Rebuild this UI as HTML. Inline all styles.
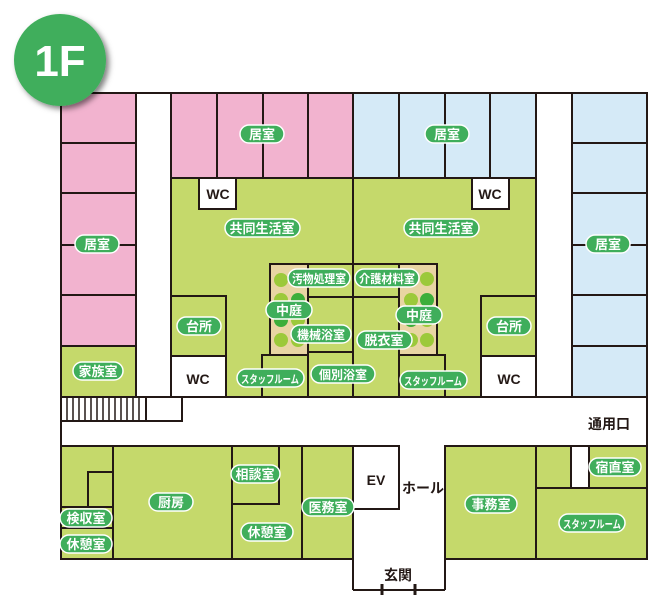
<!DOCTYPE html>
<html><head><meta charset="utf-8"><style>
html,body{margin:0;padding:0;background:#fff;width:648px;height:596px;overflow:hidden}
svg{display:block}
.l{font-family:"Liberation Sans","Noto Sans CJK JP",sans-serif;font-weight:bold;fill:#fff;font-size:13px}
.t{font-family:"Liberation Sans","Noto Sans CJK JP",sans-serif;font-weight:bold;fill:#231815;font-size:14px}
</style></head><body>
<svg width="648" height="596" viewBox="0 0 648 596" xmlns="http://www.w3.org/2000/svg">
<defs>
<filter id="sh" x="-30%" y="-30%" width="160%" height="160%"><feDropShadow dx="3" dy="3" stdDeviation="3" flood-color="#000" flood-opacity="0.5"/></filter>
</defs>
<g stroke="#231815" stroke-width="2">
<rect x="61" y="446" width="292" height="113" fill="#c5d96b"/>
<rect x="445" y="446" width="202" height="113" fill="#c5d96b"/>
<rect x="171" y="178" width="365" height="219" fill="#c5d96b"/>
<rect x="61" y="93" width="75" height="50" fill="#f2b3cf"/>
<rect x="61" y="143" width="75" height="50" fill="#f2b3cf"/>
<rect x="61" y="193" width="75" height="102" fill="#f2b3cf"/>
<line x1="61" y1="245" x2="136" y2="245"/>
<rect x="61" y="295" width="75" height="51" fill="#f2b3cf"/>
<rect x="61" y="346" width="75" height="51" fill="#c5d96b"/>
<rect x="171" y="93" width="46" height="85" fill="#f2b3cf"/>
<rect x="217" y="93" width="46" height="85" fill="#f2b3cf"/>
<rect x="263" y="93" width="45" height="85" fill="#f2b3cf"/>
<rect x="308" y="93" width="45" height="85" fill="#f2b3cf"/>
<rect x="353" y="93" width="46" height="85" fill="#d5eaf7"/>
<rect x="399" y="93" width="46" height="85" fill="#d5eaf7"/>
<rect x="445" y="93" width="45" height="85" fill="#d5eaf7"/>
<rect x="490" y="93" width="46" height="85" fill="#d5eaf7"/>
<rect x="572" y="93" width="75" height="50" fill="#d5eaf7"/>
<rect x="572" y="143" width="75" height="50" fill="#d5eaf7"/>
<rect x="572" y="193" width="75" height="102" fill="#d5eaf7"/>
<line x1="572" y1="245" x2="647" y2="245"/>
<rect x="572" y="295" width="75" height="51" fill="#d5eaf7"/>
<rect x="572" y="346" width="75" height="51" fill="#d5eaf7"/>
<line x1="61" y1="93" x2="647" y2="93"/>
<line x1="136" y1="93" x2="136" y2="397"/>
<line x1="171" y1="93" x2="171" y2="397"/>
<line x1="536" y1="93" x2="536" y2="397"/>
<line x1="572" y1="93" x2="572" y2="397"/>
<rect x="199" y="178" width="37" height="31" fill="#fff"/>
<rect x="472" y="178" width="37" height="31" fill="#fff"/>
<line x1="353" y1="178" x2="353" y2="265"/>
<rect x="270" y="264" width="38" height="91" fill="#e8d5a3"/>
<rect x="399" y="264" width="38" height="91" fill="#e8d5a3"/>
<rect x="308" y="264" width="45" height="33" fill="#c5d96b"/>
<rect x="308" y="297" width="45" height="55" fill="#c5d96b"/>
<rect x="308" y="352" width="45" height="45" fill="#c5d96b"/>
<rect x="353" y="264" width="46" height="33" fill="#c5d96b"/>
<rect x="353" y="297" width="46" height="100" fill="#c5d96b"/>
<rect x="262" y="355" width="46" height="42" fill="#c5d96b"/>
<rect x="399" y="355" width="46" height="42" fill="#c5d96b"/>
<rect x="171" y="296" width="55" height="60" fill="#c5d96b"/>
<rect x="171" y="356" width="55" height="41" fill="#fff"/>
<rect x="481" y="296" width="55" height="60" fill="#c5d96b"/>
<rect x="481" y="356" width="55" height="41" fill="#fff"/>
<line x1="61" y1="397" x2="647" y2="397"/>
<line x1="61" y1="397" x2="61" y2="559"/>
<line x1="647" y1="93" x2="647" y2="559"/>
<rect x="146" y="397" width="36" height="24" fill="#fff"/>
<line x1="61" y1="421" x2="146" y2="421"/>
<line x1="61" y1="446" x2="353" y2="446"/>
<line x1="445" y1="446" x2="647" y2="446"/>
<rect x="88" y="472" width="25" height="35" fill="#c5d96b"/>
<line x1="61" y1="507" x2="113" y2="507"/>
<line x1="61" y1="528" x2="113" y2="528"/>
<line x1="113" y1="446" x2="113" y2="559"/>
<line x1="232" y1="446" x2="232" y2="559"/>
<rect x="232" y="446" width="47" height="58" fill="#c5d96b"/>
<line x1="302" y1="446" x2="302" y2="559"/>
<rect x="353" y="446" width="46" height="63" fill="#fff"/>
<line x1="353" y1="446" x2="353" y2="590"/>
<line x1="445" y1="446" x2="445" y2="590"/>
<line x1="353" y1="590" x2="445" y2="590"/>
<line x1="536" y1="446" x2="536" y2="559"/>
<line x1="536" y1="488" x2="647" y2="488"/>
<rect x="571" y="446" width="18" height="42" fill="#fff"/>
<line x1="61" y1="559" x2="353" y2="559"/>
<line x1="445" y1="559" x2="647" y2="559"/>
</g>
<g stroke="#231815" stroke-width="1.5">
<line x1="67" y1="397" x2="67" y2="421"/><line x1="73" y1="397" x2="73" y2="421"/><line x1="79" y1="397" x2="79" y2="421"/><line x1="85" y1="397" x2="85" y2="421"/><line x1="91" y1="397" x2="91" y2="421"/><line x1="97" y1="397" x2="97" y2="421"/><line x1="103" y1="397" x2="103" y2="421"/><line x1="109" y1="397" x2="109" y2="421"/><line x1="115" y1="397" x2="115" y2="421"/><line x1="121" y1="397" x2="121" y2="421"/><line x1="127" y1="397" x2="127" y2="421"/><line x1="133" y1="397" x2="133" y2="421"/><line x1="139" y1="397" x2="139" y2="421"/>
</g>
<g stroke="#231815" stroke-width="3">
<line x1="382" y1="584" x2="382" y2="595"/><line x1="415" y1="584" x2="415" y2="595"/>
</g>
<g>
<circle cx="281" cy="280" r="7" fill="#9cc93a"/>
<circle cx="281" cy="300" r="7" fill="#9cc93a"/><circle cx="298" cy="300" r="7" fill="#3cae3a"/>
<circle cx="281" cy="320" r="7" fill="#3cae3a"/><circle cx="298" cy="320" r="7" fill="#9cc93a"/>
<circle cx="281" cy="340" r="7" fill="#9cc93a"/><circle cx="298" cy="340" r="7" fill="#9cc93a"/>
<circle cx="427" cy="279" r="7" fill="#9cc93a"/>
<circle cx="411" cy="300" r="7" fill="#9cc93a"/><circle cx="427" cy="300" r="7" fill="#3cae3a"/>
<circle cx="411" cy="320" r="7" fill="#3cae3a"/><circle cx="427" cy="320" r="7" fill="#9cc93a"/>
<circle cx="411" cy="340" r="7" fill="#9cc93a"/><circle cx="427" cy="340" r="7" fill="#9cc93a"/>
</g>
<circle cx="60" cy="60" r="46" fill="#3fae5b" filter="url(#sh)"/>
<text x="60" y="76" text-anchor="middle" style="font-family:'Liberation Sans',sans-serif;font-weight:bold;font-size:44px;fill:#fff">1F</text>
<g fill="#3fae5b" stroke="#fff" stroke-width="1.5">
<rect x="240" y="125" width="44" height="18" rx="9"/>
<rect x="425" y="125" width="44" height="18" rx="9"/>
<rect x="75" y="235" width="44" height="18" rx="9"/>
<rect x="586" y="235" width="44" height="18" rx="9"/>
<rect x="225" y="219" width="75" height="18" rx="9"/>
<rect x="404" y="219" width="75" height="18" rx="9"/>
<rect x="288" y="269" width="62" height="18" rx="9"/>
<rect x="355" y="269" width="64" height="18" rx="9"/>
<rect x="266" y="301" width="46" height="18" rx="9"/>
<rect x="396" y="306" width="46" height="18" rx="9"/>
<rect x="291" y="325" width="60" height="18" rx="9"/>
<rect x="357" y="331" width="55" height="18" rx="9"/>
<rect x="177" y="317" width="44" height="18" rx="9"/>
<rect x="487" y="317" width="44" height="18" rx="9"/>
<rect x="237" y="369" width="67" height="18" rx="9"/>
<rect x="311" y="365" width="64" height="18" rx="9"/>
<rect x="400" y="371" width="67" height="18" rx="9"/>
<rect x="73" y="362" width="50" height="18" rx="9"/>
<rect x="231" y="465" width="49" height="18" rx="9"/>
<rect x="149" y="493" width="44" height="18" rx="9"/>
<rect x="302" y="498" width="52" height="18" rx="9"/>
<rect x="60" y="509" width="52" height="18" rx="9"/>
<rect x="60" y="535" width="52" height="18" rx="9"/>
<rect x="241" y="523" width="52" height="18" rx="9"/>
<rect x="465" y="495" width="52" height="18" rx="9"/>
<rect x="589" y="458" width="52" height="18" rx="9"/>
<rect x="559" y="514" width="66" height="18" rx="9"/>
</g>
<g class="l" text-anchor="middle">
<text class="l" x="262" y="139">居室</text>
<text class="l" x="447" y="139">居室</text>
<text class="l" x="97" y="249">居室</text>
<text class="l" x="608" y="249">居室</text>
<text class="l" x="262" y="233">共同生活室</text>
<text class="l" x="441" y="233">共同生活室</text>
<text class="l" x="319" y="283" style="font-size:12px" textLength="54" lengthAdjust="spacingAndGlyphs">汚物処理室</text>
<text class="l" x="387" y="283" style="font-size:12px" textLength="56" lengthAdjust="spacingAndGlyphs">介護材料室</text>
<text class="l" x="289" y="315">中庭</text>
<text class="l" x="419" y="320">中庭</text>
<text class="l" x="321" y="339" style="font-size:12px">機械浴室</text>
<text class="l" x="384" y="345">脱衣室</text>
<text class="l" x="199" y="331">台所</text>
<text class="l" x="509" y="331">台所</text>
<text class="l" x="270" y="383" style="font-size:11px" textLength="58" lengthAdjust="spacingAndGlyphs">スタッフルーム</text>
<text class="l" x="343" y="379" style="font-size:12px">個別浴室</text>
<text class="l" x="433" y="385" style="font-size:11px" textLength="58" lengthAdjust="spacingAndGlyphs">スタッフルーム</text>
<text class="l" x="98" y="376">家族室</text>
<text class="l" x="255" y="479">相談室</text>
<text class="l" x="171" y="507">厨房</text>
<text class="l" x="328" y="512">医務室</text>
<text class="l" x="86" y="523">検収室</text>
<text class="l" x="86" y="549">休憩室</text>
<text class="l" x="267" y="537">休憩室</text>
<text class="l" x="491" y="509">事務室</text>
<text class="l" x="615" y="472">宿直室</text>
<text class="l" x="592" y="528" style="font-size:11px" textLength="58" lengthAdjust="spacingAndGlyphs">スタッフルーム</text>
</g>
<g text-anchor="middle">
<text class="t" x="218" y="199">WC</text>
<text class="t" x="490" y="199">WC</text>
<text class="t" x="198" y="384">WC</text>
<text class="t" x="509" y="384">WC</text>
<text class="t" x="376" y="485">EV</text>
<text class="t" x="423" y="493">ホール</text>
<text class="t" x="398" y="580">玄関</text>
<text class="t" x="609" y="429">通用口</text>
</g>
</svg>
</body></html>
